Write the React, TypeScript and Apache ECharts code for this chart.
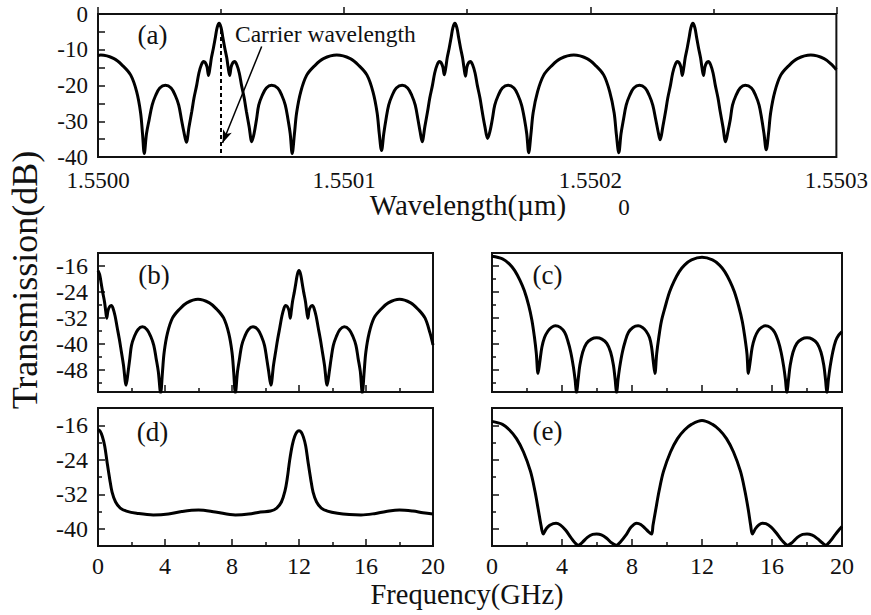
import React, { useEffect, useRef } from 'react';
import * as echarts from 'echarts';

const FONT = "'Liberation Serif', 'Times New Roman', Times, serif";
const INK = '#111';

// (a) wavelength axis: x in pm offset from 1.5500 um
const aTickLabels = ['1.5500', '1.5501', '1.5502', '1.5503'];
const aSpectrum: [number, number][] = [
  [0, -11.6], [1.1, -11.5], [6.5, -12.5], [10.1, -14.5], [13.3, -17.1], [15.7, -21.7], [17.3, -27.6], [18.1, -33.6], [18.8, -39],
  [19.7, -33.5], [20.8, -29.5], [22.0, -25.5], [23.4, -22.8], [25.1, -20.7], [27.4, -19.9], [29.7, -20.7], [31.4, -22.8], [32.8, -25.5], [33.9, -29.5], [34.9, -33], [35.9, -35.9],
  [37.0, -31.5], [38.1, -27.3], [39.0, -23.5], [40.1, -19.9], [41.0, -16.5], [42.0, -14.2], [42.9, -13.3], [43.6, -13.6], [44.3, -14.8], [44.9, -17.2], [45.5, -15], [46.1, -12.2], [46.9, -9.5], [47.7, -6.5], [48.4, -3.8], [49.2, -2.6], [50.0, -3.8], [50.7, -6.5], [51.5, -9.5], [52.3, -12.2], [52.9, -15], [53.5, -17.2], [54.1, -14.8], [54.8, -13.6], [55.5, -13.3], [56.4, -14.2], [57.4, -16.5], [58.3, -19.9], [59.4, -23.5], [60.3, -27.3], [61.4, -31.5], [62.5, -35.7],
  [63.4, -33.5], [64.4, -29.5], [65.3, -25.5], [66.7, -22.8], [68.4, -20.7], [70.5, -19.9], [73.0, -20.7], [74.7, -22.8], [76.1, -25.5], [77.2, -29.5], [78.1, -33.5], [78.9, -39],
  [79.8, -33.6], [80.7, -27.6], [82.4, -21.7], [84.8, -17.1], [88.0, -14.5], [91.6, -12.5], [97.0, -11.5], [102.5, -12.5], [106.1, -14.5], [109.3, -17.1], [111.7, -21.7], [113.4, -27.6], [114.3, -33.6], [115.2, -38.2],
  [116.1, -33.5], [117.0, -29.5], [118.1, -25.5], [119.5, -22.8], [121.2, -20.7], [123.6, -19.9], [125.8, -20.7], [127.5, -22.8], [128.9, -25.5], [130.0, -29.5], [130.9, -33], [131.7, -35.7],
  [132.8, -31.5], [133.9, -27.3], [134.8, -23.5], [135.9, -19.9], [136.8, -16.5], [137.8, -14.2], [138.7, -13.3], [139.4, -13.6], [140.1, -14.8], [140.7, -17.0], [141.3, -15], [141.9, -12.2], [142.7, -9.5], [143.5, -6.5], [144.2, -3.8], [145.0, -2.6], [145.8, -3.8], [146.5, -6.5], [147.3, -9.5], [148.1, -12.2], [148.7, -15], [149.3, -17.4], [149.9, -14.8], [150.6, -13.6], [151.3, -13.3], [152.2, -14.2], [153.2, -16.5], [154.1, -19.9], [155.2, -23.5], [156.1, -27.3], [157.2, -31.5], [158.3, -34.8],
  [159.2, -33], [160.2, -29.5], [161.2, -25.5], [162.6, -22.8], [164.3, -20.7], [166.6, -19.9], [169.0, -20.7], [170.7, -22.8], [172.1, -25.5], [173.3, -29.5], [174.2, -33.5], [175.0, -38.8],
  [175.9, -33.6], [176.8, -27.6], [178.6, -21.7], [181.1, -17.1], [184.3, -14.5], [187.9, -12.5], [193.3, -11.5], [198.7, -12.5], [202.3, -14.5], [205.5, -17.1], [207.9, -21.7], [209.7, -27.6], [210.6, -33.6], [211.6, -38.8],
  [212.5, -33.5], [213.5, -29.5], [214.6, -25.5], [216.0, -22.8], [217.7, -20.7], [220.0, -19.9], [222.3, -20.7], [224.0, -22.8], [225.4, -25.5], [226.6, -29.5], [227.6, -33], [228.4, -35.2],
  [229.5, -31.5], [230.6, -27.3], [231.5, -23.5], [232.6, -19.9], [233.5, -16.5], [234.5, -14.2], [235.4, -13.3], [236.1, -13.6], [236.8, -14.8], [237.4, -17.2], [238.0, -15], [238.6, -12.2], [239.4, -9.5], [240.2, -6.5], [240.9, -3.8], [241.7, -2.6], [242.5, -3.8], [243.2, -6.5], [244.0, -9.5], [244.8, -12.2], [245.4, -15], [246.0, -17.2], [246.6, -14.8], [247.3, -13.6], [248.0, -13.3], [248.9, -14.2], [249.9, -16.5], [250.8, -19.9], [251.9, -23.5], [252.8, -27.3], [253.9, -31.5], [255.0, -35.7],
  [255.9, -33], [256.9, -29.5], [257.8, -25.5], [259.2, -22.8], [260.9, -20.7], [263.0, -19.9], [265.5, -20.7], [267.2, -22.8], [268.6, -25.5], [269.7, -29.5], [270.6, -33.5], [271.5, -38],
  [272.4, -33.6], [273.3, -27.6], [275.0, -21.7], [277.4, -17.1], [280.6, -14.5], [284.2, -12.5], [289.6, -11.5], [295.0, -12.5], [298.6, -14.5], [300, -15.6],
];

// (b)-(e) frequency axis in GHz
const bSpectrum: [number, number][] = [
  [0, -17.5], [0.1, -18.7], [0.19, -21.4], [0.29, -24.4], [0.39, -27.1], [0.46, -29.9], [0.52, -32.1], [0.6, -29.7], [0.7, -28.5], [0.8, -28.2], [0.9, -29.1], [1.02, -31.4], [1.14, -34.8], [1.27, -38.4], [1.39, -42.2], [1.52, -46.4], [1.68, -52.6],
  [1.8, -48.4], [1.9, -44.4], [2.0, -40.4], [2.17, -37.7], [2.38, -35.6], [2.65, -34.7], [2.93, -35.6], [3.15, -37.7], [3.33, -40.4], [3.47, -44.4], [3.6, -48.4], [3.74, -55],
  [3.85, -48.5], [3.95, -42.5], [4.15, -36.6], [4.45, -32], [4.85, -29.4], [5.3, -27.4], [5.97, -26.3], [6.65, -27.4], [7.1, -29.4], [7.5, -32], [7.8, -36.6], [8.0, -42.5], [8.1, -48.5], [8.2, -55],
  [8.33, -48.4], [8.45, -44.4], [8.58, -40.4], [8.76, -37.7], [8.97, -35.6], [9.25, -34.7], [9.55, -35.6], [9.76, -37.7], [9.94, -40.4], [10.07, -44.4], [10.19, -48.4], [10.32, -52.6],
  [10.48, -46.4], [10.61, -42.2], [10.73, -38.4], [10.86, -34.8], [10.98, -31.4], [11.1, -29.1], [11.2, -28.2], [11.3, -28.5], [11.4, -29.7], [11.48, -32.1], [11.54, -29.9], [11.61, -27.1], [11.71, -24.4], [11.81, -21.4], [11.9, -18.7], [12.0, -17.5], [12.1, -18.7], [12.19, -21.4], [12.29, -24.4], [12.39, -27.1], [12.46, -29.9], [12.53, -32.1], [12.6, -29.7], [12.7, -28.5], [12.8, -28.2], [12.9, -29.1], [13.02, -31.4], [13.14, -34.8], [13.27, -38.4], [13.39, -42.2], [13.52, -46.4], [13.68, -52.6],
  [13.81, -48.4], [13.92, -44.4], [14.05, -40.4], [14.23, -37.7], [14.44, -35.6], [14.7, -34.7], [15.0, -35.6], [15.22, -37.7], [15.4, -40.4], [15.53, -44.4], [15.66, -48.4], [15.78, -55],
  [15.89, -48.5], [15.99, -42.5], [16.19, -36.6], [16.48, -32], [16.88, -29.4], [17.33, -27.4], [18.0, -26.3], [18.67, -27.4], [19.12, -29.4], [19.52, -32], [19.82, -36.6], [20, -40.3],
];

const cSpectrum: [number, number][] = [
  [0, -13.1], [0.6, -13.9], [1.0, -15.5], [1.3, -17.5], [1.6, -20.5], [1.85, -23.7], [2.1, -28.2], [2.28, -32.7], [2.42, -37.7], [2.53, -42.7], [2.63, -49],
  [2.73, -45.5], [2.85, -41], [3.0, -38], [3.2, -36], [3.4, -34.9], [3.62, -34.4], [3.9, -34.9], [4.15, -36.4], [4.33, -39], [4.5, -42.5], [4.65, -47], [4.75, -51], [4.83, -55],
  [4.92, -51], [5.02, -46.5], [5.18, -42.5], [5.4, -39.8], [5.68, -38.5], [5.98, -38.1], [6.28, -38.5], [6.56, -39.8], [6.78, -42.5], [6.94, -46.5], [7.04, -51], [7.12, -55],
  [7.2, -51], [7.3, -47], [7.45, -42.5], [7.62, -39], [7.8, -36.4], [8.05, -34.9], [8.35, -34.4], [8.6, -34.9], [8.8, -36], [9.0, -38], [9.12, -41], [9.22, -45.5], [9.31, -49],
  [9.41, -43], [9.53, -38], [9.68, -33], [9.9, -28.5], [10.15, -24], [10.4, -20.8], [10.7, -17.8], [11.0, -15.8], [11.4, -14.2], [12.0, -13.4], [12.6, -14.2], [13.0, -15.8], [13.3, -17.8], [13.6, -20.8], [13.85, -24], [14.1, -28.5], [14.3, -33], [14.45, -38], [14.57, -43], [14.65, -49],
  [14.75, -45.5], [14.87, -41], [15.02, -38], [15.2, -36], [15.4, -34.9], [15.62, -34.4], [15.9, -34.9], [16.15, -36.4], [16.35, -39], [16.52, -42.5], [16.67, -47], [16.77, -51], [16.85, -55],
  [16.94, -51], [17.04, -46.5], [17.2, -42.5], [17.42, -39.8], [17.7, -38.5], [18.0, -38.1], [18.3, -38.5], [18.58, -39.8], [18.8, -42.5], [18.96, -46.5], [19.06, -51], [19.14, -55],
  [19.22, -51], [19.32, -47], [19.47, -42.5], [19.64, -39], [19.82, -37.2], [20, -36.2],
];

const dSpectrum: [number, number][] = [
  [0, -17.0], [0.13, -17.4], [0.26, -18.6], [0.4, -20.8], [0.54, -24.5], [0.7, -28.5], [0.84, -31.5], [1.05, -33.8], [1.33, -35.2], [1.7, -35.9], [2.3, -36.4], [3.3, -36.8],
  [4.2, -36.6], [5.0, -36.0], [6.0, -35.65], [7.0, -36.1], [8.2, -36.8], [9.0, -36.6], [9.7, -36.1], [10.3, -35.9], [10.67, -35.2], [10.95, -33.8], [11.16, -31.3], [11.3, -28.3], [11.44, -24.2], [11.6, -20.6], [11.74, -18.6], [11.87, -17.6], [12.0, -17.3],
  [12.13, -17.6], [12.26, -18.7], [12.4, -20.8], [12.54, -24.5], [12.7, -28.5], [12.84, -31.5], [13.05, -33.8], [13.33, -35.2], [13.7, -35.9], [14.3, -36.4], [15.0, -36.7], [15.7, -36.8],
  [16.5, -36.5], [17.2, -36.0], [18.0, -35.65], [18.8, -35.9], [19.4, -36.3], [20, -36.6],
];

const eSpectrum: [number, number][] = [
  [0, -15.1], [0.6, -15.8], [1.0, -17.1], [1.4, -19.1], [1.8, -22.2], [2.2, -26.7], [2.45, -31.2], [2.65, -35.7], [2.8, -39.2], [2.93, -41.2],
  [3.1, -40.0], [3.3, -39.2], [3.5, -38.8], [3.66, -38.7], [3.9, -39.1], [4.2, -40.3], [4.5, -42], [4.75, -43.3], [4.93, -43.8],
  [5.15, -43.2], [5.45, -42], [5.75, -41.3], [5.98, -41.2], [6.25, -41.4], [6.55, -42.2], [6.85, -43.3], [7.12, -43.8],
  [7.35, -43.0], [7.65, -41.5], [7.95, -39.6], [8.27, -38.7], [8.5, -39.0], [8.75, -39.9], [8.95, -40.7], [9.12, -41.2],
  [9.2, -39.2], [9.35, -35.7], [9.55, -31.2], [9.8, -26.7], [10.2, -22.2], [10.6, -19.1], [11.0, -17.1], [11.4, -15.8], [12.0, -14.9], [12.6, -15.8], [13.0, -17.1], [13.4, -19.1], [13.8, -22.2], [14.2, -26.7], [14.45, -31.2], [14.65, -35.7], [14.78, -39.2], [14.88, -41.2],
  [15.05, -40.0], [15.25, -39.1], [15.45, -38.7], [15.65, -38.8], [15.95, -39.6], [16.25, -41.0], [16.55, -42.6], [16.9, -43.8],
  [17.15, -43.2], [17.45, -42], [17.75, -41.3], [18.0, -41.2], [18.3, -41.5], [18.6, -42.3], [18.85, -43.2], [19.08, -43.8],
  [19.3, -43.0], [19.55, -41.7], [19.8, -40.4], [20, -39.5],
];

// tick values
const bcMajorTicks = [-48, -40, -32, -24, -16];
const bcMinorTicks = [-52, -44, -36, -28, -20];
const deMajorTicks = [-40, -32, -24, -16];
const deMinorTicks = [-36, -28, -20];

// carrier annotation (pm, dB)
const carrierPm = 49.7;
const arrowStart: [number, number] = [66.5, -9.1];
const arrowEnd: [number, number] = [50.6, -36.1];

const grids = [
  { left: 98, top: 14, width: 739, height: 143 },
  { left: 98, top: 253, width: 335, height: 139 },
  { left: 492, top: 253, width: 350, height: 139 },
  { left: 98, top: 408, width: 335, height: 138 },
  { left: 492, top: 408, width: 350, height: 138 },
];

const tickLine = { color: INK, width: 1.5 };
const labelStyle = { fontFamily: FONT, fontSize: 24, color: INK, lineHeight: 20 };

function freqX(gridIndex: number, showLabels: boolean) {
  return {
    type: 'value', gridIndex, min: 0, max: 20, interval: 4,
    axisLine: { show: false }, splitLine: { show: false },
    axisTick: { show: true, inside: true, length: 7, lineStyle: tickLine },
    minorTick: { show: true, splitNumber: 2, length: 4, lineStyle: tickLine },
    axisLabel: { show: showLabels, ...labelStyle, margin: 10, showMinLabel: true, showMaxLabel: true },
  };
}

function dbY(gridIndex: number, min: number, max: number, ticks: number[], showLabels: boolean, len: number) {
  return {
    type: 'value', gridIndex, min, max, position: 'left', offset: 0,
    axisLine: { show: false }, splitLine: { show: false },
    axisTick: { show: true, inside: true, length: len, lineStyle: tickLine, customValues: ticks },
    axisLabel: { show: showLabels, customValues: ticks, ...labelStyle, margin: 10 },
  };
}

function lineSeries(xi: number, yi: number, data: [number, number][], extra: any = {}) {
  return {
    type: 'line', xAxisIndex: xi, yAxisIndex: yi, data, symbol: 'none', showSymbol: false,
    smooth: 0.35, clip: true, lineStyle: { color: '#000', width: 3 }, silent: true, ...extra,
  };
}

function text(x: number, y: number, t: string, size: number, extra: any = {}) {
  return {
    type: 'text', x, y, silent: true, ...extra,
    style: { text: t, font: `${size}px ${FONT}`, fill: INK, lineHeight: Math.round(size * 1.05), align: 'center', verticalAlign: 'middle', textAlign: 'center', textVerticalAlign: 'middle', ...(extra.style || {}) },
  };
}

export default function App() {
  const ref = useRef<HTMLDivElement>(null);
  useEffect(() => {
    if (!ref.current) return;
    const chart = echarts.init(ref.current, undefined, { renderer: 'svg' });
    const option: any = {
      animation: false,
      backgroundColor: '#fff',
      grid: grids.map((g) => ({ ...g, show: true, borderColor: INK, borderWidth: 2, backgroundColor: 'transparent', containLabel: false })),
      xAxis: [
        {
          type: 'value', gridIndex: 0, min: 0, max: 300, interval: 100,
          axisLine: { show: false }, splitLine: { show: false },
          axisTick: { show: true, inside: true, length: 7, lineStyle: tickLine },
          minorTick: { show: true, splitNumber: 2, length: 5, lineStyle: tickLine },
          axisLabel: { ...labelStyle, fontSize: 23, margin: 13, showMinLabel: true, showMaxLabel: true, formatter: (v: number) => aTickLabels[Math.round(v / 100)] },
        },
        freqX(1, false), freqX(2, false), freqX(3, true), freqX(4, true),
      ],
      yAxis: [
        {
          type: 'value', gridIndex: 0, min: -40, max: 0, interval: 10,
          axisLine: { show: false }, splitLine: { show: false },
          axisTick: { show: true, inside: true, length: 7, lineStyle: tickLine },
          minorTick: { show: true, splitNumber: 2, length: 7, lineStyle: tickLine },
          axisLabel: { ...labelStyle, fontSize: 23, lineHeight: 18, margin: 10 },
        },
        dbY(1, -54.7, -12.1, bcMajorTicks, true, 7), dbY(1, -54.7, -12.1, bcMinorTicks, false, 4),
        dbY(2, -54.7, -12.1, bcMajorTicks, false, 7), dbY(2, -54.7, -12.1, bcMinorTicks, false, 4),
        dbY(3, -44, -12, deMajorTicks, true, 7), dbY(3, -44, -12, deMinorTicks, false, 4),
        dbY(4, -44, -12, deMajorTicks, false, 7), dbY(4, -44, -12, deMinorTicks, false, 4),
      ],
      series: [
        lineSeries(0, 0, aSpectrum, {
          markLine: {
            silent: true, animation: false, label: { show: false },
            data: [
              [
                { coord: [carrierPm, -4.5], symbol: 'none', lineStyle: { type: [4, 3], width: 2, color: '#000' } },
                { coord: [carrierPm, -40], symbol: 'none' },
              ],
              [
                { coord: arrowStart, symbol: 'none', lineStyle: { type: 'solid', width: 1.5, color: '#000' } },
                { coord: arrowEnd, symbol: 'arrow', symbolSize: [7, 13] },
              ],
            ],
          },
        }),
        lineSeries(1, 1, bSpectrum),
        lineSeries(2, 3, cSpectrum),
        lineSeries(3, 5, dSpectrum),
        lineSeries(4, 7, eSpectrum),
      ],
      graphic: [
        text(152.5, 35, '(a)', 27),
        text(154, 275, '(b)', 27),
        text(547.5, 275, '(c)', 27),
        text(152.5, 432, '(d)', 27),
        text(547.5, 431, '(e)', 27),
        text(235, 34, 'Carrier wavelength', 23.5, { style: { align: 'left', textAlign: 'left' } }),
        text(468, 205, 'Wavelength(\u00b5m)', 29),
        text(624, 207, '0', 23),
        text(467, 594, 'Frequency(GHz)', 28.5),
        text(25, 280, 'Transmission(dB)', 36, { rotation: Math.PI / 2 }),
      ],
    };
    chart.setOption(option);
    return () => chart.dispose();
  }, []);
  return <div ref={ref} style={{ position: 'fixed', left: 0, top: 0, width: 871, height: 615, background: '#fff' }} />;
}
